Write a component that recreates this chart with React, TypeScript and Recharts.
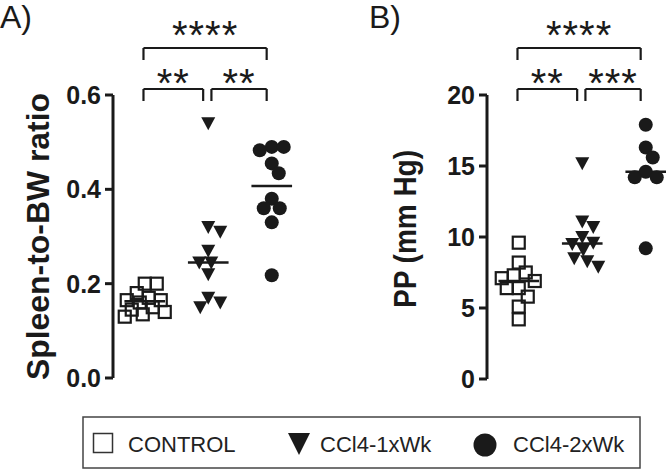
import React from "react";
import {ScatterChart, Scatter, XAxis, YAxis, ReferenceLine, ReferenceDot} from "recharts";

// groups shown on both panels
const groups = ["CONTROL", "CCl4-1xWk", "CCl4-2xWk"];

// A) spleen-to-body-weight ratio
const spleenControl = [0.2, 0.2, 0.18, 0.17, 0.165, 0.165, 0.16, 0.15, 0.145, 0.14, 0.135, 0.13];
const spleen1x = [0.54, 0.32, 0.31, 0.27, 0.245, 0.245, 0.22, 0.17, 0.16, 0.15];
const spleen2x = [0.49, 0.49, 0.483, 0.455, 0.434, 0.38, 0.36, 0.36, 0.33, 0.218];
const spleenTicks = [0, 0.2, 0.4, 0.6];
const spleenComparisons = [
    {from: 1, to: 2, stars: "**"},
    {from: 2, to: 3, stars: "**"},
    {from: 1, to: 3, stars: "****"},
];

// B) portal pressure
const ppControl = [9.6, 8.2, 7.5, 7.3, 7.1, 6.9, 6.4, 6.4, 5.8, 5.1, 4.2];
const pp1x = [15.2, 11.1, 10.7, 10.0, 9.6, 9.5, 9.1, 8.5, 8.3, 7.9];
const pp2x = [17.9, 16.3, 15.6, 14.6, 14.2, 14.2, 9.2];
const ppTicks = [0, 5, 10, 15, 20];
const ppComparisons = [
    {from: 1, to: 2, stars: "**"},
    {from: 2, to: 3, stars: "***"},
    {from: 1, to: 3, stars: "****"},
];

const INK = "#1a1a1a";
const FONT = "'Liberation Sans', Arial, Helvetica, sans-serif";
const PX_PER_GROUP = 63.5;

const median = (vals: number[]) => {
    const s = [...vals].sort((a, b) => a - b);
    const m = Math.floor(s.length / 2);
    return s.length % 2 ? s[m] : (s[m - 1] + s[m]) / 2;
};

// column scatter layout: points that would collide are pushed sideways
const swarm = (values: number[], center: number, pxY: number, minDist: number, maxOff: number) => {
    const sorted = [...values].sort((a, b) => b - a);
    const placed: { dx: number; py: number }[] = [];
    return sorted.map((v) => {
        const py = v * pxY;
        let best = 0;
        let bestScore = -1;
        let done = false;
        for (let k = 0; k <= maxOff && !done; k++) {
            for (const dx of k === 0 ? [0] : [k, -k]) {
                let d = Infinity;
                for (const p of placed) d = Math.min(d, Math.hypot(p.dx - dx, p.py - py));
                if (d >= minDist) {
                    best = dx;
                    done = true;
                    break;
                }
                if (d > bestScore) {
                    bestScore = d;
                    best = dx;
                }
            }
        }
        placed.push({dx: best, py});
        return {x: center + best / PX_PER_GROUP, y: v};
    });
};

const Square = (p: any) => (
    <rect x={p.cx - 6} y={p.cy - 6} width={12} height={12} fill="none" stroke={INK} strokeWidth={2.2}/>
);
const Triangle = (p: any) => (
    <polygon points={`${p.cx - 7},${p.cy - 6} ${p.cx + 7},${p.cy - 6} ${p.cx},${p.cy + 7}`} fill={INK}/>
);
const Dot = (p: any) => <circle cx={p.cx} cy={p.cy} r={7} fill={INK}/>;
const shapes = [Square, Triangle, Dot];

interface AxisTitleProps {
    posX: number;
    posY: number;
    text: string;
    len: number;
}

const AxisTitle = ({posX, posY, text, len}: AxisTitleProps) => (
    <text
        x={posX}
        y={posY}
        transform={`rotate(-90 ${posX} ${posY})`}
        textAnchor="middle"
        fontFamily={FONT}
        fontWeight="bold"
        fontSize={31}
        fill={INK}
        textLength={len}
        lengthAdjust="spacingAndGlyphs"
    >
        {text}
    </text>
);

interface PanelProps {
    left: number;
    width: number;
    margin: { top: number; right: number; bottom: number; left: number };
    plotHeight: number;
    series: number[][];
    ticks: number[];
    digits: number;
    comparisons: { from: number; to: number; stars: string }[];
    title: string;
    titleX: number;
    titleY: number;
    titleLen: number;
}

const Panel = (props: PanelProps) => {
    const {left, width, margin, plotHeight, series, ticks, digits, comparisons} = props;
    const yMax = ticks[ticks.length - 1];
    const pxY = plotHeight / yMax;
    const STAR_SIZE = 40;

    return (
        <div style={{position: "absolute", left, top: 0}}>
            <ScatterChart width={width} height={400} margin={margin}>
                <XAxis type="number" dataKey="x" domain={[0.5, 3.3]} hide/>
                <YAxis
                    type="number"
                    dataKey="y"
                    domain={[0, yMax]}
                    ticks={ticks}
                    interval={0}
                    width={60}
                    tickFormatter={(v: number) => v.toFixed(digits)}
                    tick={{fontSize: 25, fontWeight: 700, fill: INK, fontFamily: FONT}}
                    axisLine={{stroke: INK, strokeWidth: 3}}
                    tickLine={{stroke: INK, strokeWidth: 3}}
                    tickSize={8}
                    tickMargin={4}
                    label={<AxisTitle posX={props.titleX} posY={props.titleY} text={props.title}
                                      len={props.titleLen}/>}
                />
                {series.map((vals, i) => (
                    <Scatter
                        key={groups[i]}
                        name={groups[i]}
                        data={swarm(vals, i + 1, pxY, 12, 20)}
                        shape={shapes[i]}
                        isAnimationActive={false}
                    />
                ))}
                {series.map((vals, i) => (
                    <ReferenceLine
                        key={`med-${i}`}
                        segment={[{x: i + 0.68, y: median(vals)}, {x: i + 1.32, y: median(vals)}]}
                        stroke={INK}
                        strokeWidth={2.5}
                        ifOverflow="visible"
                    />
                ))}
                {comparisons.map((c) => {
                    const outer = c.to - c.from > 1;
                    const top = yMax + (outer ? 47 : 6) / pxY;
                    const foot = top - 12 / pxY;
                    const x1 = c.from + (c.from > 1 ? 0.05 : -0.02);
                    const x2 = c.to - 0.08;
                    const starY = top + (outer ? 22 : 15) / pxY;
                    return (
                        <g key={`${c.from}-${c.to}`}>
                            <ReferenceLine segment={[{x: x1, y: foot}, {x: x1, y: top}]} stroke={INK}
                                           strokeWidth={2.2} ifOverflow="visible"/>
                            <ReferenceLine segment={[{x: x1, y: top}, {x: x2, y: top}]} stroke={INK}
                                           strokeWidth={2.2} ifOverflow="visible"/>
                            <ReferenceLine segment={[{x: x2, y: top}, {x: x2, y: foot}]} stroke={INK}
                                           strokeWidth={2.2} ifOverflow="visible"/>
                            <ReferenceDot
                                x={(x1 + x2) / 2}
                                y={starY}
                                r={0}
                                ifOverflow="visible"
                                shape={(p: any) => (
                                    <text x={p.cx} y={p.cy + 0.57 * STAR_SIZE} textAnchor="middle"
                                          fontFamily={FONT} fontSize={STAR_SIZE} fill={INK} letterSpacing={1}>
                                        {c.stars}
                                    </text>
                                )}
                            />
                        </g>
                    );
                })}
            </ScatterChart>
        </div>
    );
};

const App = () => {
    return (
        <div style={{position: "absolute", left: 0, top: 0, width: 666, height: 469, background: "#fff"}}>
            <Panel
                left={0}
                width={330}
                margin={{top: 95, right: 39.2, bottom: 22, left: 53}}
                plotHeight={283}
                series={[spleenControl, spleen1x, spleen2x]}
                ticks={spleenTicks}
                digits={1}
                comparisons={spleenComparisons}
                title="Spleen-to-BW ratio"
                titleX={48.5}
                titleY={236.5}
                titleLen={287}
            />
            <Panel
                left={330}
                width={336}
                margin={{top: 95, right: 1.2, bottom: 21, left: 97}}
                plotHeight={284}
                series={[ppControl, pp1x, pp2x]}
                ticks={ppTicks}
                digits={0}
                comparisons={ppComparisons}
                title="PP (mm Hg)"
                titleX={85.5}
                titleY={229}
                titleLen={158}
            />
            <svg width={666} height={469} style={{position: "absolute", left: 0, top: 0, pointerEvents: "none"}}
                 fontFamily={FONT}>
                <text x={0} y={28} fontSize={32} fill={INK}>A)</text>
                <text x={369} y={28} fontSize={32} fill={INK}>B)</text>
                <rect x={83} y={417} width={557} height={51} fill="none" stroke="#444" strokeWidth={1.5}/>
                <rect x={93.5} y={433.5} width={19} height={19} fill="#fff" stroke="#333" strokeWidth={1.5}/>
                <text x={128} y={452} fontSize={22} fill="#222">{groups[0]}</text>
                <polygon points="288,433 310,433 299,455" fill={INK}/>
                <text x={320} y={452} fontSize={22} fill="#222">{groups[1]}</text>
                <circle cx={485} cy={445} r={11.5} fill={INK}/>
                <text x={513} y={452} fontSize={22} fill="#222">{groups[2]}</text>
            </svg>
        </div>
    );
};

export default App;
